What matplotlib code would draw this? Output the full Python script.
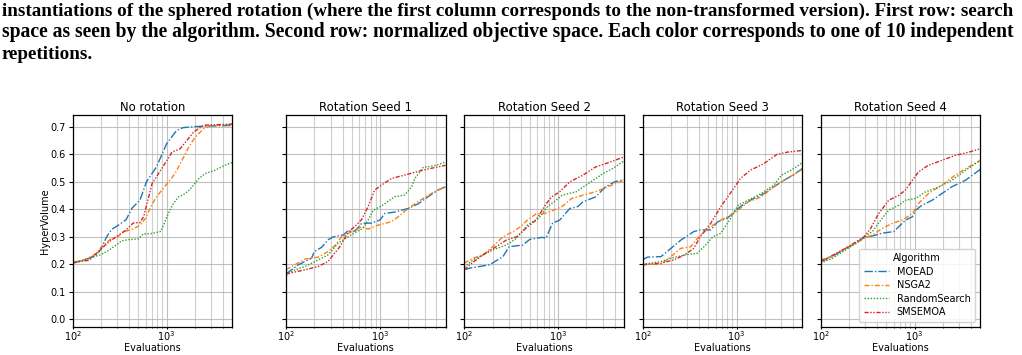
import matplotlib
matplotlib.use("Agg")
import matplotlib.pyplot as plt
import numpy as np

# ---------------- data ----------------
titles = ["No rotation", "Rotation Seed 1", "Rotation Seed 2", "Rotation Seed 3", "Rotation Seed 4"]
algorithms = ["MOEAD", "NSGA2", "RandomSearch", "SMSEMOA"]

# Panel 0: No rotation
p0_moead_x = [100, 120, 150, 180, 200, 230, 260, 300, 370, 430, 520, 610, 780, 1000, 1280, 1500, 2000, 3000, 5000]
p0_moead_y = [0.205, 0.212, 0.222, 0.235, 0.255, 0.30, 0.327, 0.340, 0.362, 0.405, 0.433, 0.50, 0.554, 0.638, 0.687, 0.697, 0.701, 0.703, 0.705]
p0_nsga2_x = [100, 130, 150, 180, 200, 250, 300, 350, 450, 520, 600, 680, 780, 1050, 1230, 1460, 1720, 2020, 2480, 3000, 5000]
p0_nsga2_y = [0.208, 0.215, 0.225, 0.24, 0.262, 0.29, 0.30, 0.318, 0.33, 0.342, 0.368, 0.41, 0.445, 0.50, 0.53, 0.578, 0.626, 0.663, 0.693, 0.705, 0.708]
p0_random_x = [100, 130, 160, 200, 240, 290, 330, 400, 500, 560, 700, 870, 1010, 1150, 1340, 1580, 1860, 2180, 2580, 3280, 4170, 5000]
p0_random_y = [0.205, 0.215, 0.225, 0.235, 0.25, 0.27, 0.285, 0.29, 0.292, 0.31, 0.312, 0.32, 0.373, 0.415, 0.445, 0.457, 0.48, 0.51, 0.53, 0.542, 0.56, 0.57]
p0_sms_x = [100, 150, 200, 240, 290, 375, 440, 520, 570, 645, 700, 820, 1010, 1140, 1390, 1640, 1930, 2180, 2500, 5000]
p0_sms_y = [0.205, 0.215, 0.255, 0.28, 0.30, 0.326, 0.35, 0.352, 0.373, 0.445, 0.493, 0.53, 0.578, 0.608, 0.62, 0.65, 0.68, 0.693, 0.706, 0.71]

# Panel 1: Rotation Seed 1
p1_moead_x = [100, 135, 187, 200, 240, 280, 320, 410, 450, 540, 640, 820, 1000, 1130, 1440, 2000, 2560, 3270, 4150, 5000]
p1_moead_y = [0.165, 0.198, 0.222, 0.246, 0.262, 0.289, 0.30, 0.307, 0.32, 0.32, 0.349, 0.35, 0.361, 0.385, 0.39, 0.403, 0.42, 0.446, 0.47, 0.482]
p1_nsga2_x = [100, 115, 160, 220, 280, 330, 390, 500, 640, 750, 970, 1330, 1570, 2000, 2560, 3550, 5000]
p1_nsga2_y = [0.18, 0.192, 0.219, 0.226, 0.246, 0.267, 0.30, 0.318, 0.337, 0.328, 0.343, 0.355, 0.373, 0.403, 0.428, 0.458, 0.482]
p1_random_x = [100, 125, 160, 220, 280, 360, 460, 560, 660, 750, 850, 1040, 1440, 1840, 2180, 2360, 2880, 3980, 5000]
p1_random_y = [0.16, 0.18, 0.192, 0.216, 0.234, 0.277, 0.30, 0.318, 0.33, 0.361, 0.397, 0.412, 0.446, 0.452, 0.482, 0.512, 0.552, 0.56, 0.572]
p1_sms_x = [100, 160, 220, 280, 375, 460, 540, 640, 750, 880, 1040, 1330, 2000, 2700, 3400, 5000]
p1_sms_y = [0.165, 0.18, 0.192, 0.21, 0.264, 0.318, 0.337, 0.363, 0.41, 0.47, 0.488, 0.512, 0.528, 0.54, 0.548, 0.56]

# Panel 2: Rotation Seed 2
p2_moead_x = [100, 114, 186, 258, 300, 420, 500, 680, 740, 870, 1040, 1330, 1620, 1830, 2500, 3200, 4000, 5000]
p2_moead_y = [0.18, 0.186, 0.198, 0.228, 0.264, 0.27, 0.291, 0.298, 0.295, 0.349, 0.361, 0.403, 0.41, 0.427, 0.445, 0.482, 0.50, 0.508]
p2_nsga2_x = [100, 124, 158, 200, 258, 330, 400, 470, 580, 720, 810, 1100, 1400, 1830, 2500, 3500, 5000]
p2_nsga2_y = [0.204, 0.222, 0.234, 0.264, 0.30, 0.319, 0.337, 0.361, 0.383, 0.385, 0.391, 0.41, 0.44, 0.451, 0.464, 0.484, 0.505]
p2_random_x = [100, 124, 200, 280, 360, 470, 620, 770, 950, 1100, 1560, 2100, 3000, 3800, 5000]
p2_random_y = [0.19, 0.216, 0.252, 0.27, 0.294, 0.343, 0.367, 0.41, 0.433, 0.451, 0.464, 0.494, 0.53, 0.548, 0.576]
p2_sms_x = [100, 120, 158, 218, 280, 360, 450, 580, 750, 850, 1040, 1330, 1830, 2500, 3200, 5000]
p2_sms_y = [0.18, 0.204, 0.234, 0.264, 0.288, 0.30, 0.33, 0.361, 0.421, 0.445, 0.464, 0.50, 0.524, 0.554, 0.566, 0.59]

# Panel 3: Rotation Seed 3
p3_moead_x = [100, 112, 157, 200, 255, 350, 410, 530, 630, 790, 1100, 1400, 1950, 2500, 3200, 4000, 5000]
p3_moead_y = [0.216, 0.226, 0.228, 0.258, 0.288, 0.319, 0.325, 0.325, 0.355, 0.367, 0.41, 0.433, 0.457, 0.482, 0.506, 0.524, 0.548]
p3_nsga2_x = [100, 157, 200, 255, 325, 410, 530, 680, 880, 1040, 1330, 1830, 2500, 3450, 5000]
p3_nsga2_y = [0.20, 0.20, 0.228, 0.258, 0.264, 0.306, 0.337, 0.361, 0.379, 0.397, 0.427, 0.445, 0.482, 0.512, 0.545]
p3_random_x = [100, 157, 200, 280, 380, 450, 560, 680, 840, 1040, 1330, 1830, 2500, 3000, 3800, 5000]
p3_random_y = [0.20, 0.21, 0.222, 0.234, 0.24, 0.264, 0.30, 0.313, 0.361, 0.415, 0.433, 0.457, 0.488, 0.524, 0.542, 0.569]
p3_sms_x = [100, 157, 215, 280, 350, 410, 530, 680, 880, 1100, 1400, 1950, 2700, 3500, 5000]
p3_sms_y = [0.198, 0.204, 0.216, 0.234, 0.258, 0.30, 0.349, 0.41, 0.464, 0.512, 0.542, 0.566, 0.60, 0.608, 0.614]

# Panel 4: Rotation Seed 4
p4_moead_x = [100, 133, 184, 236, 290, 355, 450, 600, 680, 800, 950, 1030, 1200, 1540, 1950, 2500, 3500, 5000]
p4_moead_y = [0.21, 0.228, 0.258, 0.276, 0.298, 0.303, 0.313, 0.319, 0.337, 0.361, 0.373, 0.397, 0.415, 0.433, 0.457, 0.482, 0.506, 0.545]
p4_nsga2_x = [100, 133, 184, 236, 290, 355, 450, 580, 740, 950, 1100, 1400, 1950, 2700, 3500, 5000]
p4_nsga2_y = [0.215, 0.23, 0.258, 0.276, 0.294, 0.306, 0.33, 0.349, 0.361, 0.385, 0.421, 0.457, 0.488, 0.524, 0.548, 0.578]
p4_random_x = [100, 133, 184, 236, 290, 355, 450, 530, 680, 800, 1030, 1300, 1830, 2500, 3500, 5000]
p4_random_y = [0.204, 0.222, 0.252, 0.276, 0.298, 0.319, 0.367, 0.397, 0.415, 0.433, 0.44, 0.463, 0.482, 0.506, 0.542, 0.578]
p4_sms_x = [100, 184, 290, 340, 415, 530, 680, 800, 950, 1100, 1400, 1950, 2700, 3800, 5000]
p4_sms_y = [0.21, 0.258, 0.30, 0.33, 0.385, 0.433, 0.451, 0.47, 0.506, 0.536, 0.56, 0.578, 0.596, 0.608, 0.62]

panels = [
    [(p0_moead_x, p0_moead_y), (p0_nsga2_x, p0_nsga2_y), (p0_random_x, p0_random_y), (p0_sms_x, p0_sms_y)],
    [(p1_moead_x, p1_moead_y), (p1_nsga2_x, p1_nsga2_y), (p1_random_x, p1_random_y), (p1_sms_x, p1_sms_y)],
    [(p2_moead_x, p2_moead_y), (p2_nsga2_x, p2_nsga2_y), (p2_random_x, p2_random_y), (p2_sms_x, p2_sms_y)],
    [(p3_moead_x, p3_moead_y), (p3_nsga2_x, p3_nsga2_y), (p3_random_x, p3_random_y), (p3_sms_x, p3_sms_y)],
    [(p4_moead_x, p4_moead_y), (p4_nsga2_x, p4_nsga2_y), (p4_random_x, p4_random_y), (p4_sms_x, p4_sms_y)],
]

caption_lines = [
    "instantiations of the sphered rotation (where the first column corresponds to the non-transformed version). First row: search",
    "space as seen by the algorithm. Second row: normalized objective space. Each color corresponds to one of 10 independent",
    "repetitions.",
]

# ---------------- style ----------------
colors = ["#1f77b4", "#ff7f0e", "#2ca02c", "#d62728"]
linestyles = [(0, (6, 1.5, 1, 1.5)), (0, (3.5, 1.5, 1, 1.5)), (0, (1, 1.2)), (0, (3, 1.2, 1, 1.2, 1, 1.2))]

W, H = 1022, 355
fig = plt.figure(figsize=(W / 100, H / 100), dpi=100)

lefts = [72.7, 286.0, 464.3, 642.7, 820.7]
ax_w = 159.5
top_px, bot_px = 115.0, 326.7

axes = []
for i, (left, title, series) in enumerate(zip(lefts, titles, panels)):
    ax = fig.add_axes([left / W, 1 - bot_px / H, ax_w / W, (bot_px - top_px) / H])
    axes.append(ax)
    for (xs, ys), c, ls, name in zip(series, colors, linestyles, algorithms):
        ax.plot(xs, ys, color=c, linestyle=ls, linewidth=1.0, label=name)
    ax.set_xscale("log")
    ax.set_xlim(100, 5000)
    ax.set_ylim(-0.027, 0.743)
    ax.set_yticks([0.0, 0.1, 0.2, 0.3, 0.4, 0.5, 0.6, 0.7])
    ax.grid(True, which="major", color="#b0b0b0", linewidth=0.8, alpha=0.8)
    ax.grid(True, which="minor", axis="x", color="#b0b0b0", linewidth=0.8, alpha=0.6)
    ax.set_axisbelow(True)
    ax.set_title(title, fontsize=8.4, pad=3)
    ax.set_xlabel("Evaluations", fontsize=7, labelpad=0)
    ax.tick_params(axis="y", which="major", labelsize=7, length=3, width=0.8, pad=2)
    ax.tick_params(axis="x", which="major", labelsize=7, length=1.5, width=0.8, pad=0.5)
    ax.tick_params(axis="x", which="minor", length=1.0, width=0.6)
    for s in ax.spines.values():
        s.set_linewidth(0.9)
    if i == 0:
        ax.set_ylabel("HyperVolume", fontsize=7, labelpad=0)
    else:
        ax.set_yticklabels([])

leg = axes[-1].legend(title="Algorithm", loc="lower right", fontsize=7, title_fontsize=7,
                      handlelength=2.6, borderpad=0.5, labelspacing=0.35, framealpha=0.85)

# caption
fig.canvas.draw()
renderer = fig.canvas.get_renderer()
base_fs = 11.0
t = fig.text(2 / W, 1 - 16 / H, caption_lines[0], fontsize=base_fs, fontweight="bold",
             family="Liberation Serif", ha="left", va="baseline")
bb = t.get_window_extent(renderer)
fs = base_fs * (1013 / bb.width)
t.set_fontsize(fs)
t2 = fig.text(2 / W, 1 - 37.5 / H, caption_lines[1], fontsize=fs, fontweight="bold",
              family="Liberation Serif", ha="left", va="baseline")
bb2 = t2.get_window_extent(renderer)
t2.set_fontsize(fs * (1013 / bb2.width))
fig.text(2 / W, 1 - 59 / H, caption_lines[2], fontsize=fs, fontweight="bold",
         family="Liberation Serif", ha="left", va="baseline")

fig.savefig("out.png", dpi=100)
